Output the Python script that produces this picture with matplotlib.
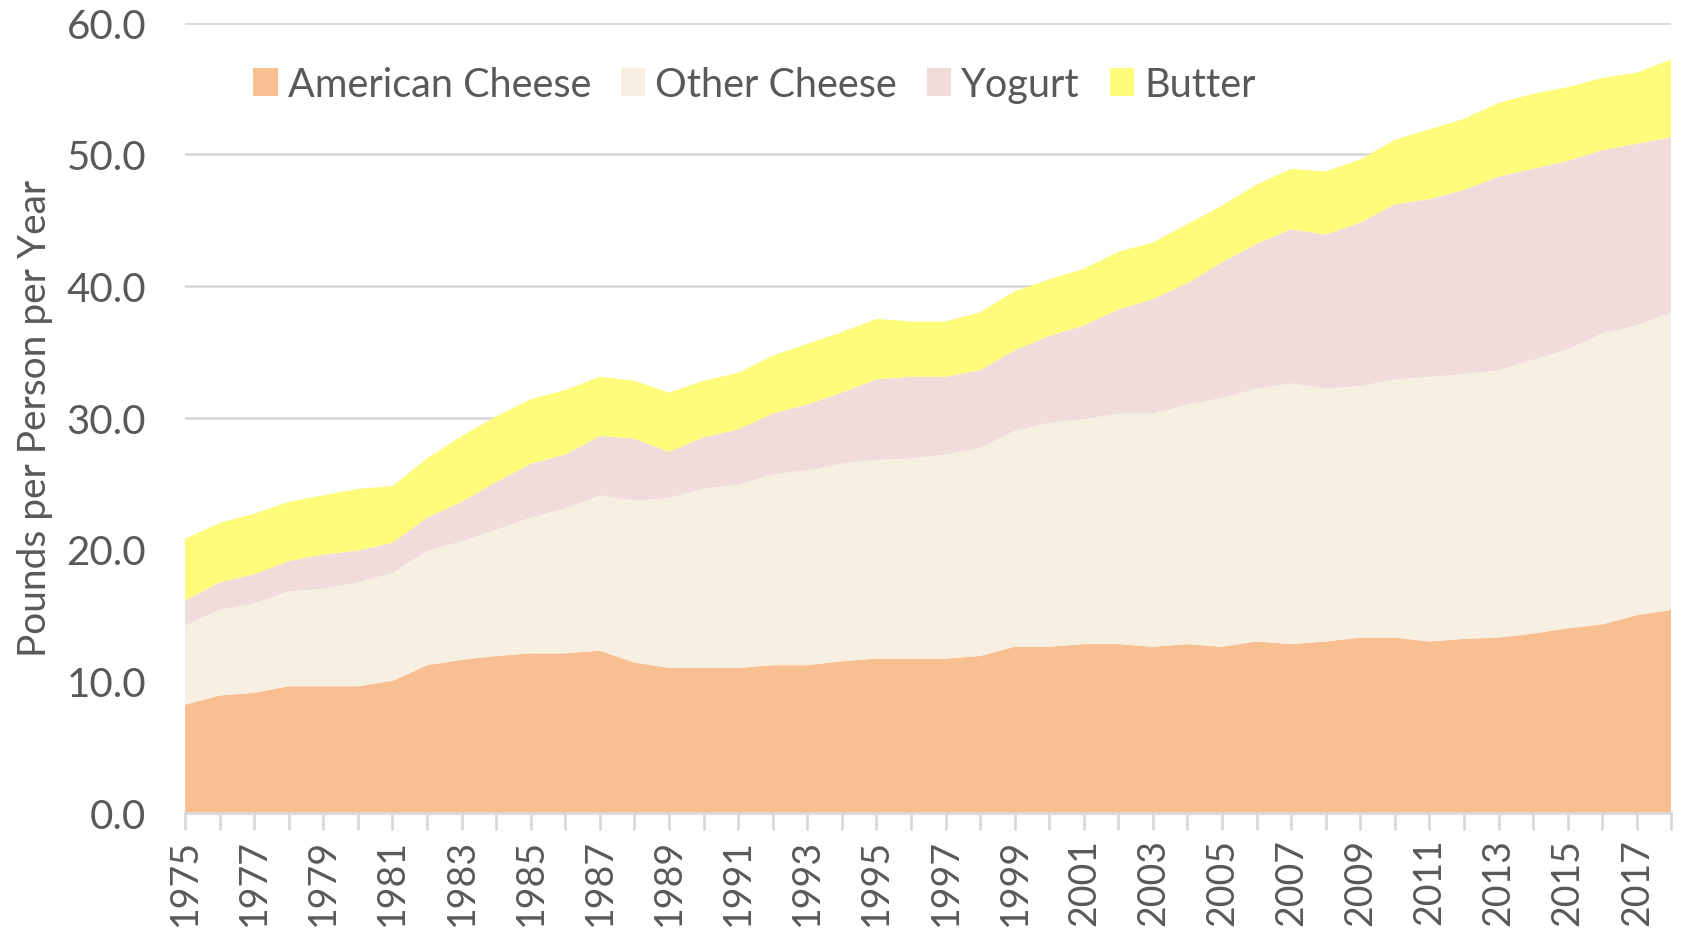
import matplotlib.pyplot as plt
from matplotlib.patches import Patch

years = list(range(1975, 2019))
american_cheese = [8.2, 8.9, 9.1, 9.6, 9.6, 9.6, 10.0, 11.2, 11.6, 11.9, 12.1, 12.1, 12.3, 11.4, 11.0,
                   11.0, 11.0, 11.2, 11.2, 11.5, 11.7, 11.7, 11.7, 11.9, 12.6, 12.6, 12.8, 12.8, 12.6, 12.8,
                   12.6, 13.0, 12.8, 13.0, 13.3, 13.3, 13.0, 13.2, 13.3, 13.6, 14.0, 14.3, 15.0, 15.4]
other_cheese = [6.0, 6.5, 6.8, 7.2, 7.4, 7.9, 8.2, 8.7, 9.0, 9.6, 10.3, 11.0, 11.8, 12.3, 12.9,
                13.6, 13.9, 14.5, 14.8, 15.0, 15.1, 15.2, 15.5, 15.8, 16.4, 17.0, 17.1, 17.5, 17.7, 18.2,
                18.9, 19.2, 19.8, 19.2, 19.1, 19.6, 20.1, 20.1, 20.3, 20.8, 21.2, 22.1, 22.0, 22.6]
yogurt = [1.9, 2.1, 2.2, 2.3, 2.6, 2.4, 2.3, 2.5, 3.0, 3.6, 4.1, 4.1, 4.5, 4.7, 3.5,
          3.9, 4.2, 4.6, 5.0, 5.4, 6.1, 6.2, 5.9, 5.9, 6.1, 6.6, 7.1, 7.9, 8.7, 9.2,
          10.3, 11.0, 11.7, 11.7, 12.4, 13.3, 13.5, 14.0, 14.7, 14.5, 14.3, 13.9, 13.8, 13.3]
butter = [4.7, 4.5, 4.6, 4.5, 4.5, 4.7, 4.3, 4.5, 5.0, 5.0, 4.9, 4.9, 4.5, 4.4, 4.5,
          4.3, 4.3, 4.4, 4.6, 4.6, 4.6, 4.2, 4.2, 4.4, 4.5, 4.3, 4.3, 4.4, 4.3, 4.5,
          4.3, 4.5, 4.6, 4.8, 4.8, 4.9, 5.3, 5.4, 5.6, 5.7, 5.6, 5.5, 5.4, 5.9]
labels = ['American Cheese', 'Other Cheese', 'Yogurt', 'Butter']
colors = ['#F8C090', '#F7EFE2', '#EFDCDB', '#FFFB7B']
text_color = '#595959'

plt.rcParams['font.family'] = ['Lato', 'DejaVu Sans']

fig = plt.figure(figsize=(16.9, 9.45), dpi=100)
ax = fig.add_axes([0.1095, 0.139, 0.8795, 0.836])

ax.stackplot(years, american_cheese, other_cheese, yogurt, butter, colors=colors, linewidth=0)

ax.set_xlim(1975, 2018)
ax.set_ylim(0, 60)
ax.set_yticks(range(0, 61, 10))
ax.set_yticklabels([f'{v:.1f}' for v in range(0, 61, 10)], fontsize=29, color=text_color)
ax.yaxis.grid(True, color='#D9D9D9', linewidth=2)
ax.set_axisbelow(True)
ax.tick_params(axis='y', length=0, pad=28)

# labels every other year, tick marks every year
ax.set_xticks(years[::2])
ax.set_xticklabels([str(y) for y in years[::2]], rotation=90, fontsize=27, color=text_color)
ax.set_xticks(years, minor=True)
ax.tick_params(axis='x', which='both', length=12, width=2, color='#D9D9D9', pad=6)

for side in ['top', 'right', 'left']:
    ax.spines[side].set_visible(False)
ax.spines['bottom'].set_color('#D9D9D9')
ax.spines['bottom'].set_linewidth(2)

ax.set_ylabel('Pounds per Person per Year', fontsize=28, color=text_color, labelpad=10)

handles = [Patch(facecolor=c, edgecolor='none') for c in colors]
ax.legend(handles, labels, loc='upper left', bbox_to_anchor=(0.022, 0.99), ncol=4, frameon=False,
          fontsize=28.5, labelcolor=text_color, handlelength=0.62, handleheight=0.7,
          handletextpad=0.25, columnspacing=0.75)

fig.savefig('out.png', dpi=100)
